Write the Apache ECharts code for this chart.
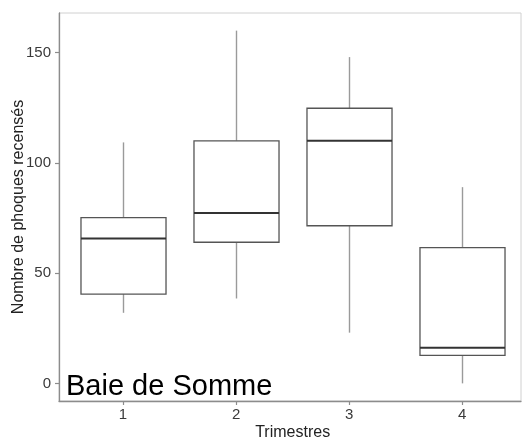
<!DOCTYPE html>
<html>
<head>
<meta charset="utf-8">
<script src="https://cdn.jsdelivr.net/npm/echarts@6/dist/echarts.min.js"></script>
<style>
  html, body { margin: 0; padding: 0; background: #fff; }
  #chart { width: 525px; height: 438px; }
</style>
</head>
<body>
<div id="chart"></div>
<script>
// Seal counts per quarter, Baie de Somme (box-and-whisker summary)
const categories = ['1', '2', '3', '4'];
const whiskerLow = [32, 38.5, 23, 0];
const quartile1 = [40.5, 64, 71.5, 12.7];
const medianVal = [65.7, 77.3, 110, 16.2];
const quartile3 = [75.2, 110, 124.8, 61.6];
const whiskerHigh = [109.3, 160, 148, 89];
const yTicks = [0, 50, 100, 150];
const yMin = -8, yMax = 168;

const FONT = "'Liberation Sans', Arial, sans-serif";

const boxData = categories.map((c, i) =>
  [i, whiskerLow[i], quartile1[i], medianVal[i], quartile3[i], whiskerHigh[i]]);

function renderBox(params, api) {
  const x = api.value(0);
  const pLow = api.coord([x, api.value(1)]);
  const pQ1 = api.coord([x, api.value(2)]);
  const pMed = api.coord([x, api.value(3)]);
  const pQ3 = api.coord([x, api.value(4)]);
  const pHigh = api.coord([x, api.value(5)]);
  const half = api.size([1, 0])[0] * 0.376;
  const cx = Math.round(pMed[0]) + 0.5;
  const whisker = { stroke: '#9a9a9a', lineWidth: 1.4 };
  return {
    type: 'group',
    children: [
      { type: 'line', shape: { x1: cx, y1: pHigh[1], x2: cx, y2: pQ3[1] }, style: whisker },
      { type: 'line', shape: { x1: cx, y1: pQ1[1], x2: cx, y2: pLow[1] }, style: whisker },
      { type: 'rect', shape: { x: cx - half, y: pQ3[1], width: half * 2, height: pQ1[1] - pQ3[1] },
        style: { fill: '#fff', stroke: '#555', lineWidth: 1.3 } },
      { type: 'line', shape: { x1: cx - half, y1: pMed[1], x2: cx + half, y2: pMed[1] },
        style: { stroke: '#333', lineWidth: 2 } }
    ]
  };
}

const chart = echarts.init(document.getElementById('chart'), null, { renderer: 'canvas' });
chart.setOption({
  animation: false,
  backgroundColor: '#fff',
  grid: [
    // panel frame with the y scale
    { left: 59, top: 13, width: 462, height: 388, show: true, borderColor: '#d0d0d0', borderWidth: 1,
      containLabel: false, outerBoundsMode: 'none' },
    // plotting area for the four quarters
    { left: 66.5, top: 13, width: 452.3, height: 388, containLabel: false, outerBoundsMode: 'none' }
  ],
  xAxis: [
    { gridIndex: 0, type: 'value', min: 0, max: 1,
      axisLine: { show: true, onZero: false, lineStyle: { color: '#8c8c8c', width: 1.3 } },
      axisTick: { show: false }, axisLabel: { show: false }, splitLine: { show: false } },
    { gridIndex: 1, type: 'category', data: categories, boundaryGap: true,
      axisLine: { show: false, onZero: false },
      axisTick: { show: true, alignWithLabel: true, length: 4, lineStyle: { color: '#8c8c8c', width: 1.2 } },
      axisLabel: { color: '#3a3a3a', fontSize: 15, fontFamily: FONT, margin: 6 },
      name: 'Trimestres', nameLocation: 'middle', nameGap: 24, nameMoveOverlap: false,
      nameTextStyle: { color: '#222', fontSize: 16, fontFamily: FONT },
      splitLine: { show: false } }
  ],
  yAxis: [
    { gridIndex: 0, type: 'value', min: yMin, max: yMax,
      axisLine: { show: true, onZero: false, lineStyle: { color: '#8c8c8c', width: 1.3 } },
      axisTick: { show: true, length: 4, customValues: yTicks, lineStyle: { color: '#8c8c8c', width: 1.2 } },
      axisLabel: { customValues: yTicks, color: '#3a3a3a', fontSize: 15, fontFamily: FONT, margin: 8 },
      name: 'Nombre de phoques recensés', nameLocation: 'middle', nameGap: 32, nameMoveOverlap: false,
      nameTextStyle: { color: '#222', fontSize: 16, fontFamily: FONT },
      splitLine: { show: false } },
    { gridIndex: 1, type: 'value', min: yMin, max: yMax, show: false, splitLine: { show: false } }
  ],
  graphic: [
    { type: 'text', left: 66, top: 372, silent: true,
      style: { text: 'Baie de Somme', fill: '#000', font: '29px ' + FONT } }
  ],
  series: [
    { type: 'custom', xAxisIndex: 1, yAxisIndex: 1, renderItem: renderBox,
      encode: { x: 0, y: [1, 2, 3, 4, 5] }, data: boxData, clip: false }
  ]
});
</script>
</body>
</html>
